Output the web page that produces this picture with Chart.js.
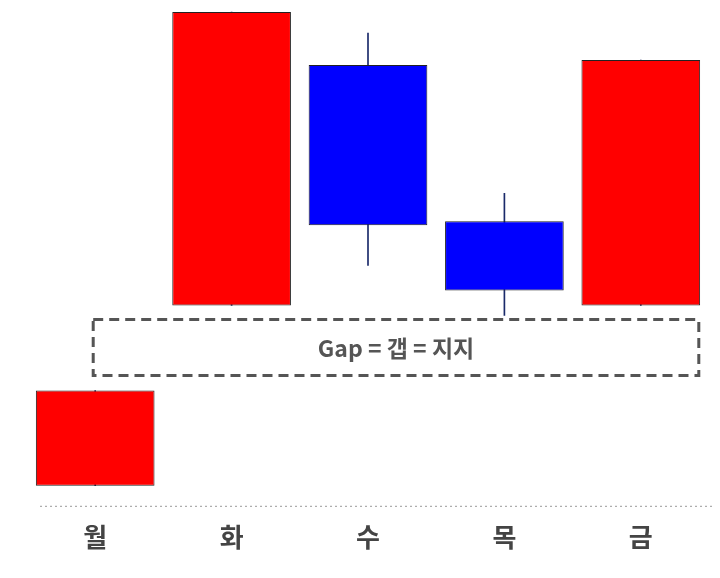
<!DOCTYPE html>
<html><head><meta charset="utf-8">
<script src="https://cdn.jsdelivr.net/npm/chart.js@4/dist/chart.umd.min.js"></script>
<style>html,body{margin:0;padding:0;background:#fff}#w{width:720px;height:578px}</style>
</head><body><div id="w"><canvas id="c"></canvas></div>
<script>
const days = ['월','화','수','목','금'];
const opens = [23, 40, 88, 56.8, 40];
const closes = [4, 98.6, 56, 43, 89];
const highs = [23, 98.6, 94.4, 62.4, 89];
const lows = [4, 40, 48, 38, 40];
const colors = ['#ff0000','#ff0000','#0000ff','#0000ff','#ff0000'];
const gapLow = 26, gapHigh = 37.2, gapLabel = 'Gap = 갭 = 지지';

const gapPlugin = {
  id:'gap',
  afterDatasetsDraw(chart){
    const {ctx, scales:{x,y}} = chart;
    const x0 = x.getPixelForValue(0) - 2, x1 = x.getPixelForValue(4) + 58;
    const y0 = y.getPixelForValue(gapHigh), y1 = y.getPixelForValue(gapLow);
    ctx.save();
    ctx.strokeStyle='#555'; ctx.lineWidth=3; ctx.setLineDash([10,6]);
    ctx.strokeRect(x0,y0,x1-x0,y1-y0);
    ctx.setLineDash([]);
    ctx.fillStyle='#555'; ctx.font='bold 23px "Noto Sans CJK KR"';
    ctx.textAlign='center'; ctx.textBaseline='middle';
    ctx.fillText(gapLabel,(x0+x1)/2,(y0+y1)/2+1);
    const yb = y.getPixelForValue(0);
    ctx.strokeStyle='#999'; ctx.lineWidth=1; ctx.setLineDash([2,3]);
    ctx.beginPath(); ctx.moveTo(40,yb+0.5); ctx.lineTo(712,yb+0.5); ctx.stroke();
    ctx.restore();
  }
};

new Chart(document.getElementById('c'),{
  type:'bar',
  data:{labels:days,datasets:[
    {data:days.map((d,i)=>[opens[i],closes[i]]),backgroundColor:colors,borderColor:'#222',borderWidth:1,borderSkipped:false,barPercentage:1,categoryPercentage:0.87,order:1},
    {data:days.map((d,i)=>[lows[i],highs[i]]),backgroundColor:'#1a2a6a',barThickness:1,order:2}
  ]},
  options:{responsive:true,maintainAspectRatio:false,animation:false,
    layout:{padding:{left:27,right:11,top:0,bottom:17}},
    plugins:{legend:{display:false},tooltip:{enabled:false}},
    scales:{
      x:{stacked:true,grid:{display:false},border:{display:false},
        ticks:{color:'#444',font:{size:26,weight:'bold',family:'"Noto Sans CJK KR"'},padding:8}},
      y:{display:false,min:0,max:101}
    }},
  plugins:[gapPlugin]
});
</script></body></html>
